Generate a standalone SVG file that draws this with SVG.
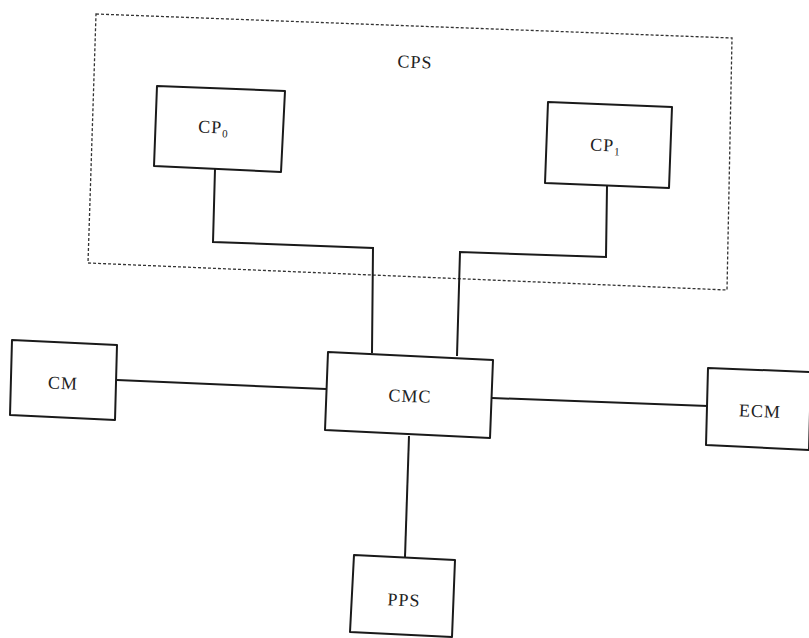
<svg xmlns="http://www.w3.org/2000/svg" width="809" height="638" viewBox="0 0 809 638">
<style>
.box{fill:#fff;stroke:#1a1a1a;stroke-width:2;stroke-linejoin:round}
.grp{fill:none;stroke:#333;stroke-width:1.3;stroke-dasharray:3 2}
.wire{fill:none;stroke:#1a1a1a;stroke-width:2}
.lbl{font-family:"Liberation Serif","Times New Roman",serif;font-size:18px;letter-spacing:1px;fill:#222;text-anchor:middle}
.sub{font-size:11px;letter-spacing:0}
</style>
<rect width="809" height="638" fill="#fff"/>
<g id="cps">
<polygon class="grp" points="96,14 732,38 727,290 88,263"/>
<text class="lbl" x="415" y="68" transform="rotate(2.2 415 62)">CPS</text>
</g>
<g id="connectors">
<polyline class="wire" points="215,169 213,242 373,248 372,353"/>
<polyline class="wire" points="607,186 606,257 460,252 457,356"/>
<polyline class="wire" points="117,380 326,389"/>
<polyline class="wire" points="492,398 708,406"/>
<polyline class="wire" points="409,436 405,557"/>
</g>
<g id="cp0">
<polygon class="box" points="157,86 285,91 281,172 154,166"/>
<text class="lbl" x="213" y="133" transform="rotate(2.2 213 128)">CP<tspan class="sub" dy="4">0</tspan></text>
</g>
<g id="cp1">
<polygon class="box" points="548,102 672,107 669,188 545,183"/>
<text class="lbl" x="605" y="151" transform="rotate(2.2 605 146)">CP<tspan class="sub" dy="4">1</tspan></text>
</g>
<g id="cm">
<polygon class="box" points="12,340 117,345 115,420 10,415"/>
<text class="lbl" x="63" y="389" transform="rotate(2.2 63 383)">CM</text>
</g>
<g id="cmc">
<polygon class="box" points="328,352 493,360 490,438 325,430"/>
<text class="lbl" x="410" y="402" transform="rotate(2.2 410 396)">CMC</text>
</g>
<g id="ecm">
<polygon class="box" points="708,368 811,372 809,450 706,445"/>
<text class="lbl" x="760" y="417" transform="rotate(2.2 760 411)">ECM</text>
</g>
<g id="pps">
<polygon class="box" points="354,555 455,560 452,637 350,632"/>
<text class="lbl" x="404" y="606" transform="rotate(2.2 404 600)">PPS</text>
</g>
</svg>
